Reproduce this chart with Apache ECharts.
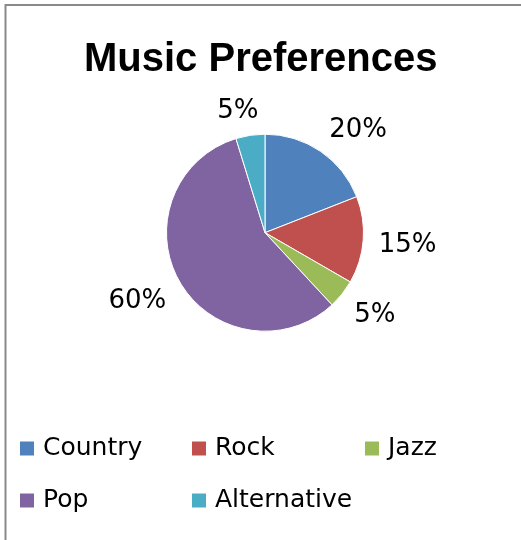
<!DOCTYPE html>
<html>
<head>
<meta charset="utf-8">
<script src="https://cdn.jsdelivr.net/npm/echarts@6/dist/echarts.min.js"></script>
<style>
html,body{margin:0;padding:0;background:#fff;}
#chart{width:521px;height:540px;}
</style>
</head>
<body>
<div id="chart"></div>
<script>
var categories = ['Country', 'Rock', 'Jazz', 'Pop', 'Alternative'];
var values = [20, 15, 5, 60, 5];
var colors = ['#4F81BD', '#C0504D', '#9BBB59', '#8064A2', '#4BACC6'];
var titleText = 'Music Preferences';

var chart = echarts.init(document.getElementById('chart'));
var CX = 265, CY = 232.7, R = 98.5, D = 114, LABEL_FS = 26;
var total = values.reduce(function (a, b) { return a + b; }, 0);

function midAngle(i) {
  var s = 0;
  for (var k = 0; k < i; k++) s += values[k];
  return ((s + values[i] / 2) / total) * 2 * Math.PI;
}
function clampSign(v) { return Math.max(-1, Math.min(1, v / 0.3)); }

var legendFont = { fontFamily: 'DejaVu Sans', fontSize: 25, color: '#000', padding: [0, 0, 0, 3] };
function legendCol(items, left) {
  return {
    data: items, left: left, top: 436, orient: 'vertical',
    itemWidth: 16, itemHeight: 16, itemGap: 27, icon: 'rect',
    textStyle: legendFont, selectedMode: false, padding: 0
  };
}

chart.setOption({
  animation: false,
  color: colors,
  title: {
    text: titleText, left: 79, top: 35,
    textStyle: { fontFamily: 'Liberation Sans', fontWeight: 'bold', fontSize: 40, color: '#000' }
  },
  graphic: [{
    type: 'rect', shape: { x: 5.5, y: 5, width: 560, height: 560 },
    style: { fill: 'none', stroke: '#898989', lineWidth: 2 }, silent: true
  }],
  legend: [
    legendCol([categories[0], categories[3]], 18),
    legendCol([categories[1], categories[4]], 190),
    legendCol([categories[2]], 363)
  ],
  series: [{
    type: 'pie',
    center: [CX, CY],
    radius: [0, R],
    startAngle: 90,
    clockwise: true,
    itemStyle: { borderColor: '#fff', borderWidth: 1 },
    label: {
      show: true, position: 'outside', formatter: '{c}%',
      fontFamily: 'DejaVu Sans', fontSize: LABEL_FS, color: '#000'
    },
    labelLine: { show: false },
    labelLayout: function (p) {
      var a = midAngle(p.dataIndex);
      var dx = Math.sin(a), dy = -Math.cos(a);
      var w = p.labelRect.width, h = LABEL_FS * 0.77;
      return {
        x: CX + D * dx + clampSign(dx) * w / 2,
        y: CY + 1.5 + D * dy + clampSign(dy) * h / 2,
        align: 'center', verticalAlign: 'middle'
      };
    },
    data: categories.map(function (c, i) { return { name: c, value: values[i] }; })
  }]
});
</script>
</body>
</html>
